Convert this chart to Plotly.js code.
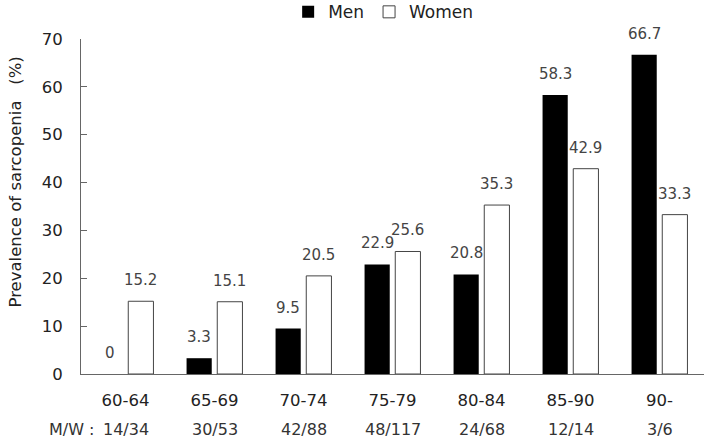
<!DOCTYPE html>
<html><head><meta charset="utf-8">
<script src="https://cdn.plot.ly/plotly-3.0.1.min.js"></script>
<style>html,body{margin:0;padding:0;background:#fff}#c{width:708px;height:438px}</style>
</head><body><div id="c"></div>
<script>
var categories = ["60-64","65-69","70-74","75-79","80-84","85-90","90-"];
var men = [0, 3.3, 9.5, 22.9, 20.8, 58.3, 66.7];
var women = [15.2, 15.1, 20.5, 25.6, 35.3, 42.9, 33.3];
var counts = ["14/34","30/53","42/88","48/117","24/68","12/14","3/6"];
var countLabel = "M/W :";
var yTitle = "Prevalence of sarcopenia \u00a0\u00a0(%)";

var FONT = "DejaVu Sans, Verdana, sans-serif";
var W = 708, H = 438, ML = 81, MR = 4, BARGAP = 0.31;
var traces = [
  {type:"bar", name:"Men", x:categories, y:men,
   marker:{color:"#000", line:{color:"#000", width:0}}},
  {type:"bar", name:"Women", x:categories, y:women,
   marker:{color:"#fff", line:{color:"#444", width:1}}}
];
var slot = (W - ML - MR) / categories.length * (1 - BARGAP) / 2;
var ann = [];
function valLabels(vals, shift){
  vals.forEach(function(v,i){
    ann.push({x:categories[i], y:v, xref:"x", yref:"y", xshift:shift, yshift:10,
      yanchor:"bottom", text:String(v), showarrow:false,
      font:{family:FONT, size:15, color:"#444"}});
  });
}
valLabels(men, -slot/2);
valLabels(women, slot/2);
counts.forEach(function(c,i){
  ann.push({x:categories[i], y:0, xref:"x", yref:"paper", yshift:-55, yanchor:"middle", text:c,
    showarrow:false, font:{family:FONT, size:16, color:"#333"}});
});
ann.push({x:0, xref:"paper", y:0, yref:"paper", yshift:-55, yanchor:"middle", xshift:-34, text:countLabel, xanchor:"left",
  showarrow:false, font:{family:FONT, size:16, color:"#333"}});
ann.push({x:0, xref:"paper", y:0, yref:"paper", xanchor:"center", xshift:-66, yanchor:"bottom", yshift:64,
  textangle:-90, text:yTitle, showarrow:false, font:{family:FONT, size:16.5, color:"#222"}});
var layout = {
  width:W, height:H,
  margin:{l:ML, r:MR, t:39, b:64, autoexpand:false},
  paper_bgcolor:"#fff", plot_bgcolor:"#fff",
  barmode:"group", bargap:BARGAP, bargroupgap:0.18,
  font:{family:FONT, color:"#222"},
  showlegend:true,
  legend:{orientation:"h", x:0.485, xanchor:"center", y:1.026, yanchor:"bottom",
    font:{family:FONT, size:17, color:"#222"}, itemwidth:30, tracegroupgap:0},
  xaxis:{type:"category", showline:true, linecolor:"#666", linewidth:1, ticks:"",
    tickfont:{family:FONT, size:16.5, color:"#222"}, ticklabelstandoff:11, showgrid:false, zeroline:false},
  yaxis:{range:[0,70], dtick:10, showline:true, linecolor:"#666", linewidth:1,
    ticks:"inside", ticklen:6, tickcolor:"#666", showgrid:false, zeroline:false,
    tickfont:{family:FONT, size:16.5, color:"#222"}, ticklabelstandoff:14},
  annotations:ann
};
Plotly.newPlot("c", traces, layout, {displayModeBar:false, staticPlot:true});
</script></body></html>
